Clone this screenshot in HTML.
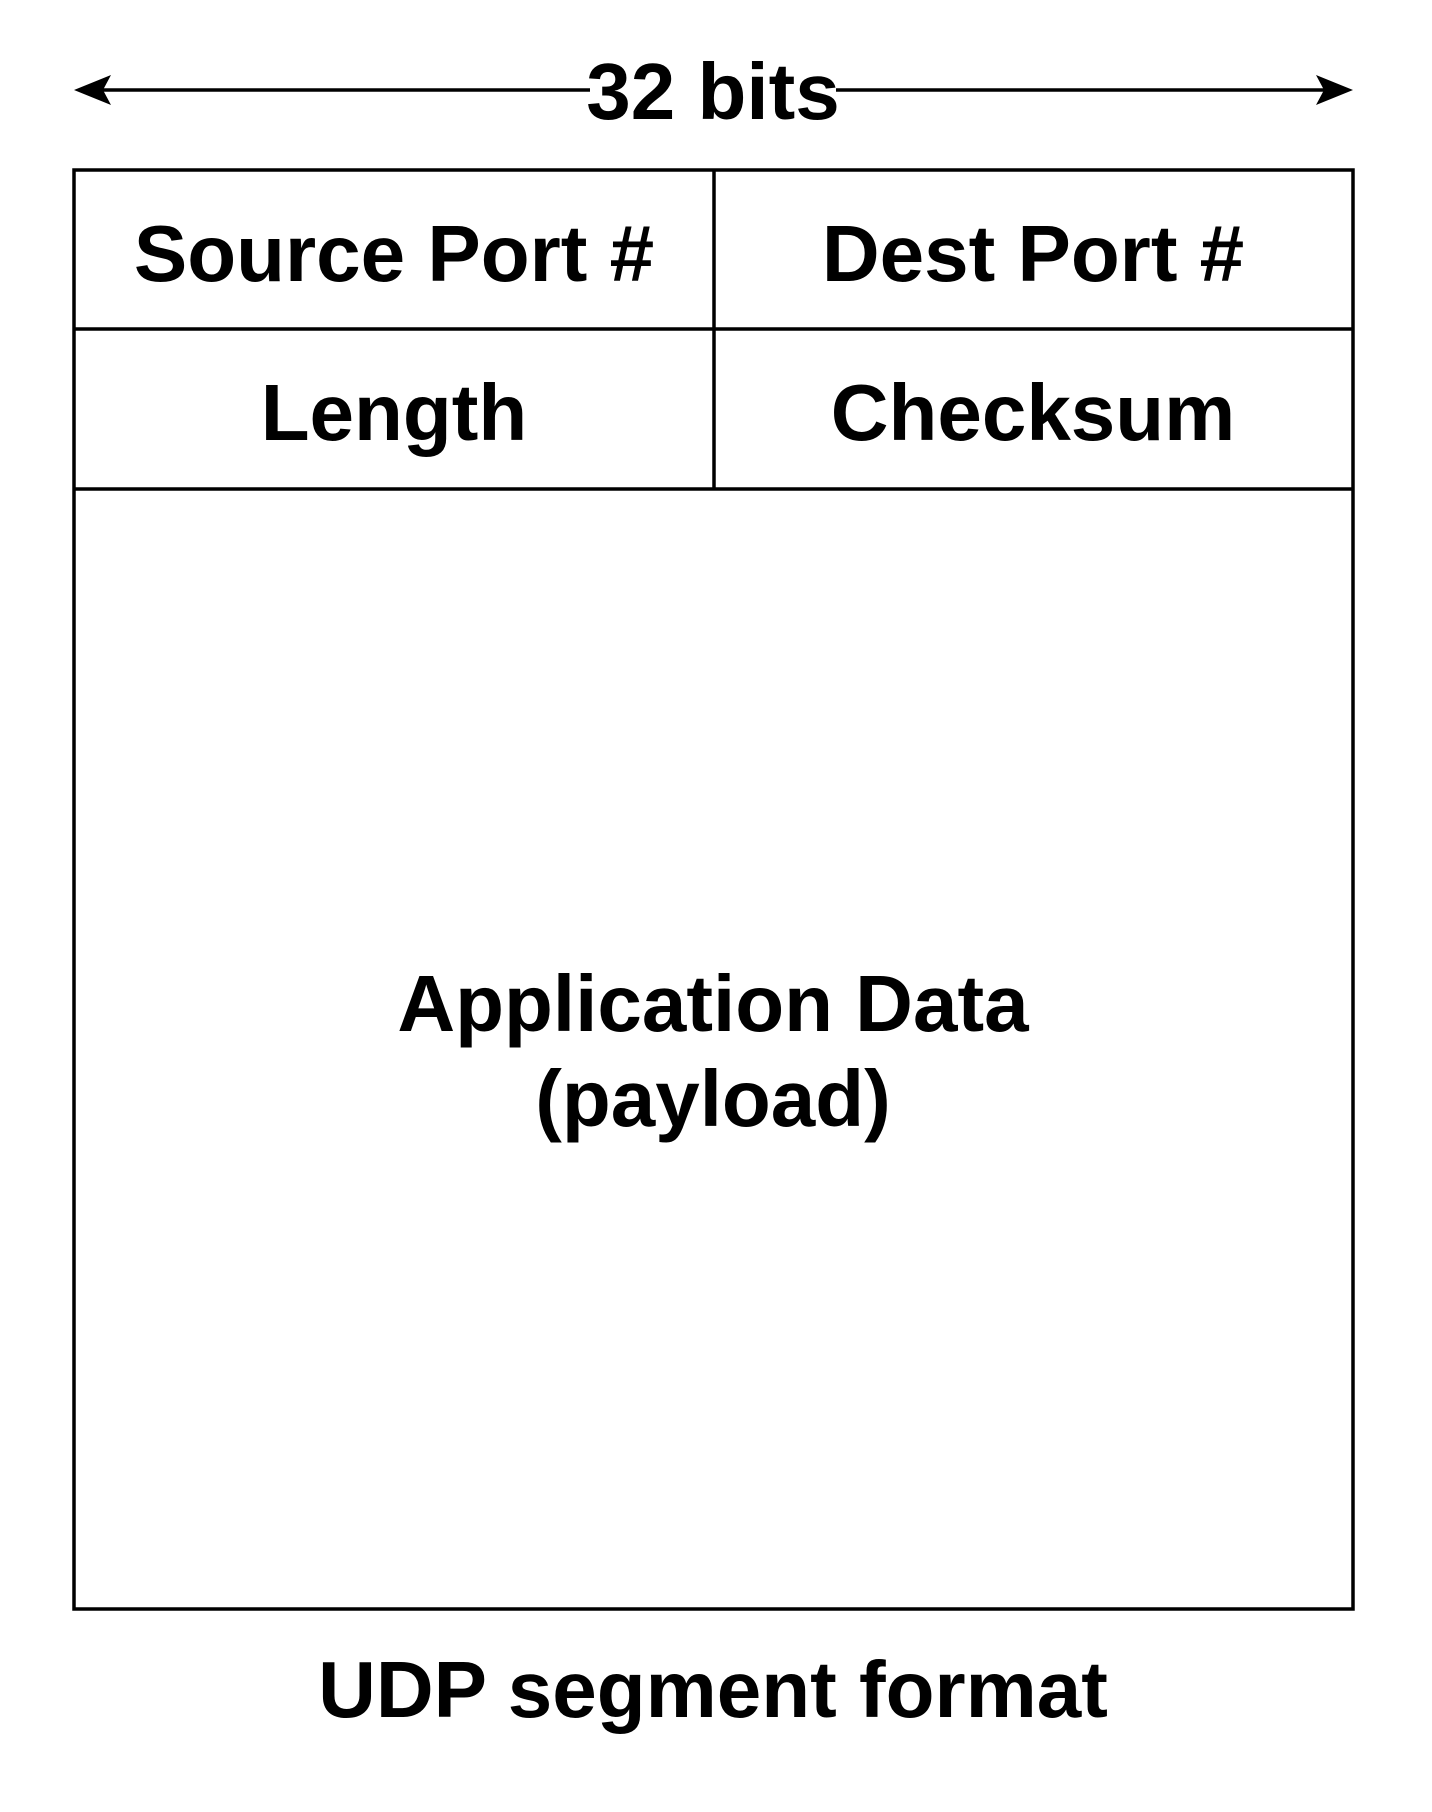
<!DOCTYPE html>
<html><head><meta charset="utf-8"><style>
html,body{margin:0;padding:0;background:#fff;}
svg{display:block;}
text{font-family:"Liberation Sans",Arial,sans-serif;font-weight:bold;fill:#000;text-anchor:middle;}
</style></head><body>
<svg width="1432" height="1812" viewBox="0 0 1432 1812" xmlns="http://www.w3.org/2000/svg">
<rect x="0" y="0" width="1432" height="1812" fill="#fff"/>
<line x1="90" y1="90" x2="590" y2="90" stroke="#000" stroke-width="3.5"/>
<line x1="836" y1="90" x2="1338" y2="90" stroke="#000" stroke-width="3.5"/>
<path d="M74 90 L111 75 L103 90 L111 105 Z" fill="#000"/>
<path d="M1353 90 L1316 75 L1324 90 L1316 105 Z" fill="#000"/>
<text x="713" y="119" font-size="80">32 bits</text>
<rect x="74" y="170" width="1279" height="1439" fill="none" stroke="#000" stroke-width="3.5"/>
<line x1="74" y1="329" x2="1353" y2="329" stroke="#000" stroke-width="3.5"/>
<line x1="74" y1="489" x2="1353" y2="489" stroke="#000" stroke-width="3.5"/>
<line x1="714" y1="170" x2="714" y2="489" stroke="#000" stroke-width="3.5"/>
<text x="394" y="281" font-size="80">Source Port #</text>
<text x="1033" y="281" font-size="80">Dest Port #</text>
<text x="394" y="440" font-size="80">Length</text>
<text x="1033" y="440" font-size="80">Checksum</text>
<text x="713" y="1031" font-size="80">Application Data</text>
<text x="713" y="1126" font-size="80">(payload)</text>
<text x="713" y="1717" font-size="80">UDP segment format</text>
</svg>
</body></html>
